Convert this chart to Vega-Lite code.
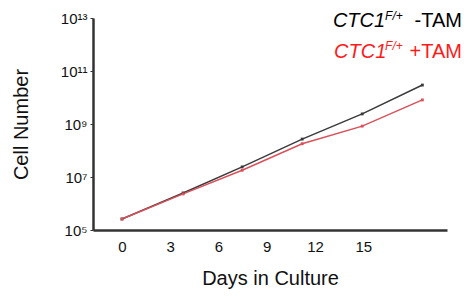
{
  "$schema": "https://vega.github.io/schema/vega-lite/v6.json",
  "autosize": "none",
  "width": 354,
  "height": 212,
  "padding": {"left": 93, "top": 18, "right": 23, "bottom": 67},
  "background": "white",
  "config": {
    "view": {"stroke": null},
    "font": "Liberation Sans",
    "axis": {"grid": false, "domainColor": "#333333", "domainWidth": 2.5, "tickColor": "#333333", "labelColor": "#111111", "titleColor": "#111111", "labelFont": "Liberation Sans", "titleFont": "Liberation Sans", "titleFontWeight": "normal"}
  },
  "datasets": {
    "growth": [
      {"day": 0, "cells": 260000, "group": "-TAM"},
      {"day": 3.8, "cells": 2500000, "group": "-TAM"},
      {"day": 7.47, "cells": 24000000, "group": "-TAM"},
      {"day": 11.2, "cells": 270000000, "group": "-TAM"},
      {"day": 14.93, "cells": 2400000000, "group": "-TAM"},
      {"day": 18.67, "cells": 29500000000, "group": "-TAM"},
      {"day": 0, "cells": 260000, "group": "+TAM"},
      {"day": 3.8, "cells": 2300000, "group": "+TAM"},
      {"day": 7.47, "cells": 18000000, "group": "+TAM"},
      {"day": 11.2, "cells": 180000000, "group": "+TAM"},
      {"day": 14.93, "cells": 830000000, "group": "+TAM"},
      {"day": 18.67, "cells": 8100000000, "group": "+TAM"}
    ]
  },
  "layer": [
    {
      "data": {"name": "growth"},
      "mark": {"type": "line", "strokeWidth": 1.5},
      "encoding": {
        "x": {"field": "day", "type": "quantitative",
          "scale": {"domain": [-1.8, 20.2], "nice": false, "zero": false},
          "axis": {"values": [0, 3, 6, 9, 12, 15], "ticks": false, "labelPadding": 9, "labelFontSize": 15, "title": "Days in Culture", "titleFontSize": 20, "titlePadding": 14}},
        "y": {"field": "cells", "type": "quantitative",
          "scale": {"type": "log", "domain": [100000, 10000000000000], "nice": false},
          "axis": {"values": [100000, 10000000, 1000000000, 100000000000, 10000000000000], "tickSize": 3, "labelPadding": 3, "labelFontSize": 15,
            "labelExpr": "datum.value >= 1e13 ? '10¹³' : datum.value >= 1e11 ? '10¹¹' : datum.value >= 1e9 ? '10⁹' : datum.value >= 1e7 ? '10⁷' : '10⁵'",
            "title": "Cell Number", "titleFontSize": 20, "titlePadding": 29}},
        "color": {"field": "group", "type": "nominal", "scale": {"domain": ["-TAM", "+TAM"], "range": ["#3a3a3a", "#d9505a"]}, "legend": null}
      }
    },
    {
      "data": {"name": "growth"},
      "mark": {"type": "point", "shape": "square", "filled": true, "size": 8, "opacity": 1},
      "encoding": {
        "x": {"field": "day", "type": "quantitative"},
        "y": {"field": "cells", "type": "quantitative"},
        "color": {"field": "group", "type": "nominal", "legend": null}
      }
    },
    {
      "data": {"values": [{}]},
      "mark": {"type": "text", "text": "CTC1", "fontStyle": "italic", "fontSize": 20, "align": "left", "baseline": "alphabetic", "color": "#000000"},
      "encoding": {"x": {"datum": 13.11}, "y": {"datum": 4600000000000}}
    },
    {
      "data": {"values": [{}]},
      "mark": {"type": "text", "text": "F/+", "fontStyle": "italic", "fontSize": 12, "align": "left", "baseline": "alphabetic", "color": "#000000"},
      "encoding": {"x": {"datum": 16.35}, "y": {"datum": 8300000000000}}
    },
    {
      "data": {"values": [{}]},
      "mark": {"type": "text", "text": "-TAM", "fontSize": 20, "align": "right", "baseline": "alphabetic", "color": "#000000"},
      "encoding": {"x": {"datum": 21.13}, "y": {"datum": 4600000000000}}
    },
    {
      "data": {"values": [{}]},
      "mark": {"type": "text", "text": "CTC1", "fontStyle": "italic", "fontSize": 20, "align": "left", "baseline": "alphabetic", "color": "#ff1a1a"},
      "encoding": {"x": {"datum": 13.18}, "y": {"datum": 309000000000}}
    },
    {
      "data": {"values": [{}]},
      "mark": {"type": "text", "text": "F/+", "fontStyle": "italic", "fontSize": 12, "align": "left", "baseline": "alphabetic", "color": "#ff1a1a"},
      "encoding": {"x": {"datum": 16.35}, "y": {"datum": 620000000000}}
    },
    {
      "data": {"values": [{}]},
      "mark": {"type": "text", "text": "+TAM", "fontSize": 20, "align": "right", "baseline": "alphabetic", "color": "#ff1a1a"},
      "encoding": {"x": {"datum": 21.13}, "y": {"datum": 309000000000}}
    }
  ]
}
